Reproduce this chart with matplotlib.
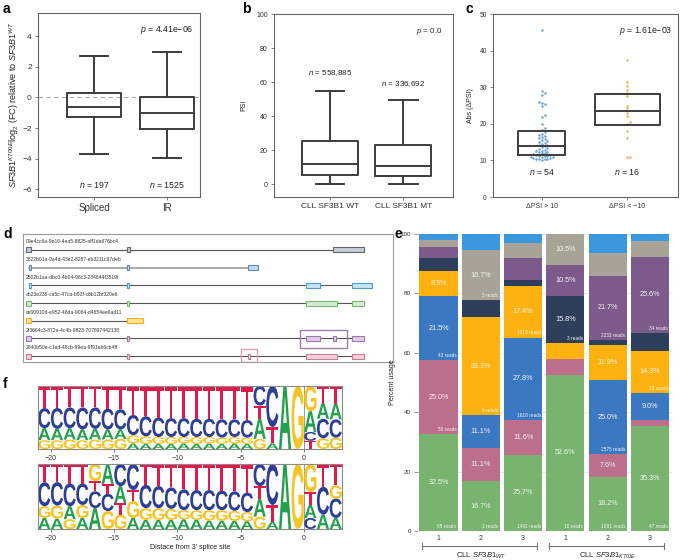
import numpy as np
import matplotlib
matplotlib.use("Agg")
import matplotlib.pyplot as plt
from matplotlib.patches import Rectangle, PathPatch
from matplotlib.textpath import TextPath
from matplotlib.font_manager import FontProperties
from matplotlib.transforms import Affine2D, blended_transform_factory

plt.rcParams['font.family'] = ['Liberation Sans', 'DejaVu Sans']
plt.rcParams['mathtext.fontset'] = 'custom'
plt.rcParams['mathtext.rm'] = 'Liberation Sans'
plt.rcParams['mathtext.it'] = 'Liberation Sans:italic'
plt.rcParams['mathtext.bf'] = 'Liberation Sans:bold'
plt.rcParams['axes.edgecolor'] = '#666666'
plt.rcParams['axes.linewidth'] = 0.8
plt.rcParams['xtick.color'] = '#666666'
plt.rcParams['ytick.color'] = '#666666'
plt.rcParams['xtick.labelcolor'] = '#333333'
plt.rcParams['ytick.labelcolor'] = '#333333'

# ---------------- data ----------------
# a: log2 FC boxes
a_groups = ['Spliced', 'IR']
a_whislo = [-3.7, -3.95]
a_q1 = [-1.3, -2.05]
a_med = [-0.6, -1.0]
a_q3 = [0.3, 0.0]
a_whishi = [2.7, 2.95]
a_n = ['197', '1525']
a_p = '4.41e\u221206'

# b: PSI boxes
b_groups = ['CLL SF3B1 WT', 'CLL SF3B1 MT']
b_whislo = [0, 0]
b_q1 = [5.5, 5.0]
b_med = [12.0, 10.5]
b_q3 = [25.5, 23.0]
b_whishi = [55.0, 49.5]
b_n = ['558,885', '336,692']
b_n_y = [65, 59]
b_p = '0.0'

# c: abs(dPSI) swarm + boxes
c_groups = ['\u0394PSI > 10', '\u0394PSI < \u221210']
c_up = [45.5, 29.0, 28.5, 28.0, 26.0, 25.8, 25.5, 25.0, 22.3, 21.8, 20.0, 18.8, 18.3,
        17.8, 17.3, 17.0, 16.7, 16.4, 16.1, 15.8, 15.5, 15.2, 15.0, 14.7, 14.5, 14.3, 14.1,
        13.9, 13.6, 13.4, 13.1, 12.9, 12.7, 12.5, 12.3, 12.2, 12.0, 11.9, 11.7, 11.6,
        11.4, 11.3, 11.2, 11.1, 11.0, 10.9, 10.8, 10.7, 10.6, 10.5, 10.5, 10.4, 10.3, 10.2]
c_down = [37.5, 31.3, 30.3, 29.3, 28.5, 27.5, 25.0, 24.2, 23.0, 22.0, 20.5, 20.0, 18.0,
          16.0, 11.0, 11.0]
c_q1 = [11.5, 19.7]
c_med = [14.0, 23.5]
c_q3 = [18.0, 28.2]
c_n = ['54', '16']
c_p = '1.61e\u221203'

# d: transcript models
d_names = ['09e4cc6a-9e16-4ea5-8825-aff1da676bc4',
           '3822b01a-9a4d-43e2-8287-eb3211c97deb',
           '2502b1aa-dbc0-4b04-98c3-234644f3519f',
           'ab23e236-ca5c-47ca-b93f-c8b12bf320e6',
           'ce60910d-e952-48da-9064-d4654ee6ad11',
           '2f3664c3-872a-4c4b-9823-707897442138',
           '2840b50e-c1ed-48cb-99ea-9f91ab6cb4ff']
d_exons = [[(3, 8), (104, 107), (310, 341)],
           [(6, 7.5), (104, 106), (225, 235)],
           [(6, 7.5), (104, 106), (283, 297), (329, 349)],
           [(3, 8), (104, 106), (283, 314), (329, 341)],
           [(3, 8), (104, 120)],
           [(3, 8), (104, 106), (283, 297), (310, 313), (329, 341)],
           [(3, 8), (104, 106), (225, 227), (283, 314), (329, 341)]]
d_fill = ['#c9cdd6', '#c3dbf2', '#c7e6f7', '#d5ebd1', '#ffe29a', '#e0cdea', '#f5d2dc']
d_edge = ['#5f6673', '#5a87bf', '#4f9bd3', '#7cb872', '#f2b01e', '#9a7aa8', '#c97b93']
d_line = ['#555555', '#a3a3a3', '#555555', '#555555', '#555555', '#555555', '#555555']
d_hl_row = [5, 6]
d_hl_x = [(277, 324), (218, 234)]
d_hl_y = [(4.52, 5.54), (5.62, 6.33)]
d_hl_col = ['#9c7da6', '#d7a1b1']

# e: percent usage stacked bars
e_ticks = ['1', '2', '3', '1', '2', '3']
e_groups = ['CLL $\\mathit{SF3B1}_{\\mathit{WT}}$', 'CLL $\\mathit{SF3B1}_{\\mathit{K700E}}$']
e_group_bars = [(0, 2), (3, 5)]
e_colors = ['#78b46e', '#bb6f8b', '#3b78c2', '#fdb20f', '#2e3f5b', '#7c5a8c', '#a8a396', '#3a98de']
e_vals = [[32.5, 25.0, 21.5, 8.5, 4.5, 3.5, 2.5, 2.0],
          [16.7, 11.1, 11.1, 33.3, 5.6, 0.0, 16.7, 5.5],
          [25.7, 11.6, 27.8, 17.4, 2.0, 7.5, 5.0, 3.0],
          [52.6, 5.3, 0.0, 5.3, 15.8, 10.5, 10.5, 0.0],
          [18.2, 7.6, 25.0, 11.9, 1.6, 21.7, 7.5, 6.5],
          [35.3, 2.1, 9.0, 14.3, 6.0, 25.6, 5.3, 2.4]]
e_reads = [[65, 50, 43, 0, 0, 0, 0, 0],
           [3, 0, 0, 6, 0, 0, 3, 0],
           [1491, 0, 1618, 1012, 0, 0, 0, 0],
           [10, 0, 0, 0, 3, 0, 0, 0],
           [1881, 0, 2575, 0, 0, 2233, 0, 0],
           [47, 0, 0, 19, 0, 34, 0, 0]]

# f: sequence logos, letters listed bottom -> top per position
f_start = -21
f_top_order = ['GACT', 'GACT', 'GACT', 'GACT', 'GACT', 'GACT', 'GACT',
               'AGCT', 'AGCT', 'AGCT', 'AGCT', 'AGCT', 'AGCT', 'AGCT', 'AGCT', 'AGCT', 'AGCT',
               'GATC', 'GATC', 'CGTA', 'ACTG', 'TCAG', 'GCAT', 'GCAT']
f_top_freq = [[.14, .19, .32, .35], [.14, .18, .33, .35], [.15, .18, .33, .34], [.14, .17, .35, .34],
              [.15, .17, .34, .34], [.15, .16, .33, .36], [.16, .15, .32, .37],
              [.09, .13, .32, .46], [.08, .12, .32, .48], [.08, .11, .31, .50], [.08, .11, .30, .51],
              [.09, .10, .30, .51], [.08, .11, .29, .52], [.09, .10, .29, .52], [.08, .10, .29, .53],
              [.09, .10, .28, .53], [.08, .10, .28, .54],
              [.16, .32, .21, .31], [0, .09, .26, .65], [0, 0, 0, 1], [0, 0, 0, 1],
              [.13, .14, .33, .40], [.17, .31, .24, .28], [.18, .29, .25, .28]]
f_bot_order = ['AGCT', 'AGCT', 'GACT', 'AGCT', 'ACTG', 'GCTA', 'GTAC', 'AGTC',
               'AGCT', 'AGCT', 'AGCT', 'AGCT', 'AGCT', 'AGCT', 'AGCT', 'AGCT', 'AGCT',
               'GATC', 'GATC', 'CGTA', 'ACTG', 'CATG', 'GACT', 'ACGT']
f_bot_freq = [[.17, .18, .37, .28], [.16, .20, .36, .28], [.15, .20, .35, .30], [.17, .20, .33, .30],
              [.32, .26, .16, .26], [.27, .26, .15, .30], [.22, .18, .26, .34], [.17, .26, .17, .40],
              [.14, .18, .36, .32], [.14, .18, .34, .34], [.14, .17, .33, .36], [.15, .14, .32, .39],
              [.14, .15, .31, .40], [.13, .16, .31, .40], [.13, .16, .30, .41], [.13, .15, .30, .42],
              [.12, .14, .30, .44],
              [.19, .27, .20, .34], [0, .11, .26, .63], [0, 0, 0, 1], [0, 0, 0, 1],
              [.17, .20, .20, .43], [0, .22, .43, .35], [.17, .30, .20, .33]]
f_colors = {'A': '#22a04b', 'C': '#2d3e96', 'G': '#f6c424', 'T': '#e3194c'}
f_ticks = [-20, -15, -10, -5, 0]

# ---------------- layout ----------------
W, H = 680, 560
fig = plt.figure(figsize=(6.8, 5.6), dpi=100)


def rect(l, t, r, b):
    return [l / W, 1 - b / H, (r - l) / W, (b - t) / H]


box_c = '#3c3c3c'


def draw_boxes(ax, lo, q1, med, q3, hi, widths, capw, caps=True):
    stats = [dict(whislo=lo[i], q1=q1[i], med=med[i], q3=q3[i], whishi=hi[i], fliers=[])
             for i in range(len(q1))]
    pr = dict(color=box_c, lw=1.4)
    ax.bxp(stats, positions=[1, 2], widths=widths, capwidths=capw, showfliers=False,
           showcaps=caps, boxprops=pr, medianprops=pr, whiskerprops=pr, capprops=pr,
           manage_ticks=False)


# ---- a
ax = fig.add_axes(rect(38, 13, 200, 197))
ax.axhline(0, color='#aaaaaa', lw=0.8, ls=(0, (4, 3)), zorder=0)
draw_boxes(ax, a_whislo, a_q1, a_med, a_q3, a_whishi, 0.74, 0.38)
ax.set_xlim(0.233, 2.45)
ax.set_ylim(-6.5, 5.5)
ax.set_yticks([-6, -4, -2, 0, 2, 4], ['\u22126', '\u22124', '\u22122', '0', '2', '4'])
ax.set_xticks([1, 2], a_groups)
ax.tick_params(axis='y', labelsize=6, length=2.5, width=0.6, pad=2)
ax.tick_params(axis='x', labelsize=7, length=2.5, width=0.6, pad=2)
for i, n in enumerate(a_n):
    ax.text(i + 1, -5.7, '$n$ = ' + n, ha='center', va='center', fontsize=6.3, color='#222222')
ax.text(0.96, 0.905, '$p$ = ' + a_p, transform=ax.transAxes, ha='right', va='center',
        fontsize=6.3, color='#222222')
ax.set_ylabel('$\\mathit{SF3B1}^{\\mathit{K700E}}$log$_2$ (FC) relative to $\\mathit{SF3B1}^{\\mathit{WT}}$',
              fontsize=6.5, labelpad=1, color='#222222')

# ---- b
ax = fig.add_axes(rect(274, 14, 453, 197))
draw_boxes(ax, b_whislo, b_q1, b_med, b_q3, b_whishi, 0.77, 0.39)
ax.set_xlim(0.233, 2.68)
ax.set_ylim(-7.6, 100)
ax.set_yticks([0, 20, 40, 60, 80, 100])
ax.set_xticks([1, 2], b_groups)
ax.tick_params(axis='y', labelsize=5, length=2.5, width=0.6, pad=2)
ax.tick_params(axis='x', labelsize=6, length=2.5, width=0.6, pad=2)
for i, n in enumerate(b_n):
    ax.text(i + 1, b_n_y[i], '$n$ = ' + n, ha='center', va='center', fontsize=5.8, color='#222222')
ax.text(0.94, 0.905, '$p$ = ' + b_p, transform=ax.transAxes, ha='right', va='center',
        fontsize=5.8, color='#222222')
ax.set_ylabel('PSI', fontsize=5, labelpad=6, color='#222222')

# ---- c
ax = fig.add_axes(rect(493, 14, 678, 197))
c_xlim = (0.43, 2.59)
px_x = 185 / (c_xlim[1] - c_xlim[0])
px_y = 183 / 50.0


def swarm_offsets(vals, diam):
    ys = np.asarray(vals) * px_y
    offs = np.zeros(len(ys))
    placed = []
    cands = [0.0]
    for k in range(1, 60):
        cands += [k * diam * 0.5, -k * diam * 0.5]
    for idx in np.argsort(ys):
        y = ys[idx]
        for c in cands:
            if all((c - px) ** 2 + (y - py) ** 2 >= diam ** 2 for px, py in placed):
                break
        placed.append((c, y))
        offs[idx] = c
    return offs / px_x


for i, (vals, col) in enumerate([(c_up, '#6aa2d8'), (c_down, '#f3ad4e')]):
    xs = i + 1 + swarm_offsets(vals, 2.8)
    ax.scatter(xs, vals, s=3.2, color=col, linewidths=0, zorder=1)
draw_boxes(ax, c_q1, c_q1, c_med, c_q3, c_q3, [0.55, 0.75], 0.0, caps=False)
ax.set_xlim(*c_xlim)
ax.set_ylim(0, 50)
ax.set_yticks([0, 10, 20, 30, 40, 50])
ax.set_xticks([1, 2], c_groups)
ax.tick_params(axis='y', labelsize=4.8, length=2.5, width=0.6, pad=2)
ax.tick_params(axis='x', labelsize=5, length=2.5, width=0.6, pad=2)
for i, n in enumerate(c_n):
    ax.text(i + 1, 6.7, '$n$ = ' + n, ha='center', va='center', fontsize=6.3, color='#222222')
ax.text(0.97, 0.905, '$p$ = ' + c_p, transform=ax.transAxes, ha='right', va='center',
        fontsize=6.3, color='#222222')
ax.set_ylabel('Abs (\u0394PSI)', fontsize=5, labelpad=4, color='#222222')

# ---- d
ax = fig.add_axes(rect(23, 234, 393, 362))
ax.set_xlim(0, 370)
ax.set_ylim(6.33, -0.9)
ax.set_xticks([])
ax.set_yticks([])
for sp in ax.spines.values():
    sp.set_color('#9a9a9a')
for r, (name, exons) in enumerate(zip(d_names, d_exons)):
    s0, s1 = exons[0][0], exons[-1][1]
    ax.plot([s0, s1], [r, r], color=d_line[r], lw=1.3 if d_line[r] != '#555555' else 0.8, zorder=1)
    for (s, e) in exons:
        ax.add_patch(Rectangle((s, r - 0.14), e - s, 0.28, fc=d_fill[r], ec=d_edge[r], lw=0.8, zorder=2))
    ax.text(3, r - 0.47, name, fontsize=3.6, color='#333333', ha='left', va='center')
for r, (x0, x1), (y0, y1), col in zip(d_hl_row, d_hl_x, d_hl_y, d_hl_col):
    ax.add_patch(Rectangle((x0, y0), x1 - x0, y1 - y0, fill=False, ec=col, lw=1.0, zorder=3))

# ---- e
ax = fig.add_axes(rect(418, 234, 672, 531))
xb = np.arange(len(e_vals))
for i, vals in enumerate(e_vals):
    bottom = 0.0
    for j, v in enumerate(vals):
        if v > 0:
            ax.bar(xb[i], v, bottom=bottom, width=0.9, color=e_colors[j], edgecolor='none', zorder=2)
            if v >= 7.55:
                ax.text(xb[i], bottom + v / 2, f'{v:.1f}%', ha='center', va='center',
                        fontsize=5.2, color='#f4f4f4', zorder=3)
            if e_reads[i][j]:
                ax.text(xb[i] + 0.42, bottom + 0.8, f'{e_reads[i][j]} reads', ha='right',
                        va='bottom', fontsize=3.4, color='#f4f4f4', zorder=3)
        bottom += v
ax.set_xlim(-0.485, 5.52)
ax.set_ylim(0, 100)
for sp in ax.spines.values():
    sp.set_visible(False)
ax.set_yticks([0, 20, 40, 60, 80, 100])
ax.yaxis.grid(True, color='#e3e3e3', lw=0.6, zorder=0)
ax.set_axisbelow(True)
ax.set_xticks(xb, e_ticks)
ax.tick_params(axis='x', length=0, labelsize=5, pad=3)
ax.tick_params(axis='y', length=3, width=0.6, labelsize=4.5, pad=2, color='#888888')
ax.set_ylabel('Percent usage', fontsize=5, labelpad=3, color='#222222')
tr = blended_transform_factory(ax.transData, ax.transAxes)
for (g0, g1), lab in zip(e_group_bars, e_groups):
    xa, xz = g0 - 0.39, g1 + 0.33
    ax.plot([xa, xz], [-0.05, -0.05], color='#777777', lw=0.8, transform=tr, clip_on=False)
    for xx in (xa, xz):
        ax.plot([xx, xx], [-0.06, -0.04], color='#777777', lw=0.8, transform=tr, clip_on=False)
    ax.text((g0 + g1) / 2, -0.083, lab, transform=tr, ha='center', va='center', fontsize=5.5,
            color='#222222')

# ---- f
logo_fp = FontProperties(family='Liberation Sans', weight='bold')
letter_paths = {ch: TextPath((0, 0), ch, size=1, prop=logo_fp) for ch in 'ACGT'}


def draw_logo(ax, orders, freqs):
    for i, (order, fr) in enumerate(zip(orders, freqs)):
        x0 = f_start + i
        tot = float(sum(fr))
        y0 = 0.0
        for ch, h in zip(order, fr):
            h = h / tot
            if h <= 0:
                continue
            tp = letter_paths[ch]
            bb = tp.get_extents()
            t = Affine2D().translate(-bb.x0, -bb.y0).scale(0.96 / bb.width, h / bb.height)
            t = t.translate(x0 + 0.02, y0)
            ax.add_patch(PathPatch(t.transform_path(tp), fc=f_colors[ch], ec='none', lw=0))
            y0 += h
    ax.axvline(0, color='#888888', lw=0.6, zorder=0)
    ax.set_xlim(f_start, f_start + len(orders))
    ax.set_ylim(0, 1)
    ax.set_yticks([])
    ax.set_xticks(f_ticks, ['\u2212' + str(-t) if t < 0 else str(t) for t in f_ticks])
    ax.tick_params(axis='x', labelsize=5, length=2, width=0.6, pad=2)
    for sp in ax.spines.values():
        sp.set_color('#8a8a8a')


ax = fig.add_axes(rect(38, 386, 342, 449))
draw_logo(ax, f_top_order, f_top_freq)
ax = fig.add_axes(rect(38, 464, 342, 529))
draw_logo(ax, f_bot_order, f_bot_freq)
ax.set_xlabel("Distace from 3' splice site", fontsize=5, labelpad=2, color='#222222')

# ---- panel letters
for lab, x, y in [('a', 3, 2), ('b', 242, 2), ('c', 466, 2), ('d', 3, 227), ('e', 394, 227), ('f', 3, 377)]:
    fig.text(x / W, 1 - y / H, lab, fontsize=10, fontweight='bold', ha='left', va='top')

fig.savefig('out.png', dpi=100)
